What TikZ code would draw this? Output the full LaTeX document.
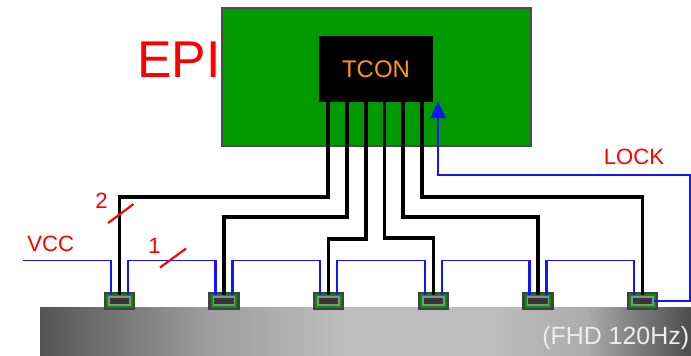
\documentclass[tikz,border=0pt]{standalone}
\usepackage{fontspec}
\setmainfont{Liberation Sans}
\usetikzlibrary{arrows.meta,calc}
\definecolor{boardgreen}{RGB}{0,153,0}
\definecolor{chipgreen}{RGB}{5,145,5}
\definecolor{chipdark}{RGB}{55,55,55}
\definecolor{lblue}{RGB}{20,20,255}
\definecolor{tconorange}{RGB}{255,153,0}
\pgfdeclarehorizontalshading{bandshade}{100bp}{
 color(0bp)=(black!67); color(25bp)=(black!67); color(38bp)=(black!38);
 color(48bp)=(black!26); color(60bp)=(black!26); color(67bp)=(black!33);
 color(75bp)=(black!70); color(100bp)=(black!70)}
\tikzset{
 board/.style={draw=black!70,line width=0.9pt,fill=boardgreen,inner sep=0pt},
 tconbox/.style={fill=black,inner sep=0pt,text=tconorange,font=\fontsize{18}{18}\selectfont},
 chipbox/.style={draw=black!75,line width=1.7pt,fill=chipgreen,inner sep=0pt,minimum width=29*0.75pt,minimum height=15.5*0.75pt},
 chipcore/.style={draw=black!45,line width=0.9pt,fill=chipdark,inner sep=0pt,minimum width=21*0.75pt,minimum height=8*0.75pt},
 wire/.style={draw=black,line width=2.4pt,line join=miter},
 rail/.style={draw=lblue,line width=1.1pt,line join=miter},
 drop/.style={draw=lblue,line width=1.8pt},
 redlabel/.style={text=red,inner sep=0pt,font=\fontsize{16.6}{16.6}\selectfont},
 slash/.style={draw=red,line width=1.6pt}
}
\begin{document}
\begin{tikzpicture}[x=0.75pt,y=-0.75pt]
\useasboundingbox (0,0) rectangle (691,355);
\clip (0,0) rectangle (691,355);
% panel
\node[inner sep=0pt,minimum width=651*0.75pt,minimum height=48*0.75pt,shading=bandshade] (panel) at (365.5,331) {};
\node[anchor=base west,inner sep=0pt,text=white!93!black,font=\fontsize{18.7}{18.7}\selectfont] (res) at (542,344) {(FHD 120Hz)};
% board and controller
\node[board,minimum width=309*0.75pt,minimum height=138*0.75pt] (epi) at (376.5,77) {};
\node[tconbox,minimum width=114*0.75pt,minimum height=66*0.75pt] (tcon) at (376,69) {TCON};
\node[inner sep=0pt,text=red,font=\fontsize{38.8}{38.8}\selectfont,anchor=base west] (epilabel) at (137,77) {EPI};
% chips
\foreach \n/\x in {1/119.5,2/224,3/328.5,4/433.5,5/538,6/642.5}{
 \node[chipbox] (c\n) at (\x,301) {};
 \node[chipcore] (k\n) at (\x,301) {};
}
% controller pins and bends
\foreach \n/\x in {1/328,2/347,3/366,4/384.5,5/403,6/422}{
 \coordinate (t\n) at (\x,102);
}
\coordinate (b1) at (328,197);
\coordinate (b2) at (347,217);
\coordinate (b3) at (366,239);
\coordinate (b4) at (384.5,238);
\coordinate (b5) at (403,217);
\coordinate (b6) at (422,197);
\foreach \n in {1,...,6}{
 \draw[wire] (t\n) -- (b\n) -- (b\n -| c\n.north) -- ($(c\n.center)+(0,-6)$);
}
% supply rails
\coordinate (vcc) at (23,260.5);
\draw[rail] (vcc) -- ($(c1.center)+(-8.5,-40.5)$);
\draw[drop] ($(c1.center)+(-8.5,-41)$) -- ($(c1.center)+(-8.5,-6)$);
\foreach \a/\b in {1/2,2/3,3/4,4/5,5/6}{
 \draw[rail] ($(c\a.center)+(8.5,-40.5)$) -- ($(c\b.center)+(-8.5,-40.5)$);
 \draw[drop] ($(c\a.center)+(8.5,-41)$) -- ($(c\a.center)+(8.5,-6)$);
 \draw[drop] ($(c\b.center)+(-8.5,-41)$) -- ($(c\b.center)+(-8.5,-6)$);
}
% lock line
\coordinate (l1) at (690,301);
\coordinate (l2) at (690,175);
\coordinate (l3) at (438,175);
\coordinate (l4) at (438,102);
\draw[rail] (k6.east) -- (l1) -- (l2) -- (l3) -- (l4);
\fill[lblue] (l4) -- (446,118) -- (430,118) -- cycle;
% labels
\node[redlabel,anchor=base west] (vcclabel) at (27,251) {VCC};
\node[redlabel,anchor=base west] (locklabel) at (603.5,164) {LOCK};
\node[redlabel,anchor=base west] (two) at (95,208) {2};
\node[redlabel,anchor=base west] (one) at (148,253) {1};
\coordinate (s1a) at (108,223); \coordinate (s1b) at (133.5,204);
\coordinate (s2a) at (160,267.5); \coordinate (s2b) at (186,248.5);
\draw[slash] (s1a) -- (s1b);
\draw[slash] (s2a) -- (s2b);
\end{tikzpicture}
\end{document}
